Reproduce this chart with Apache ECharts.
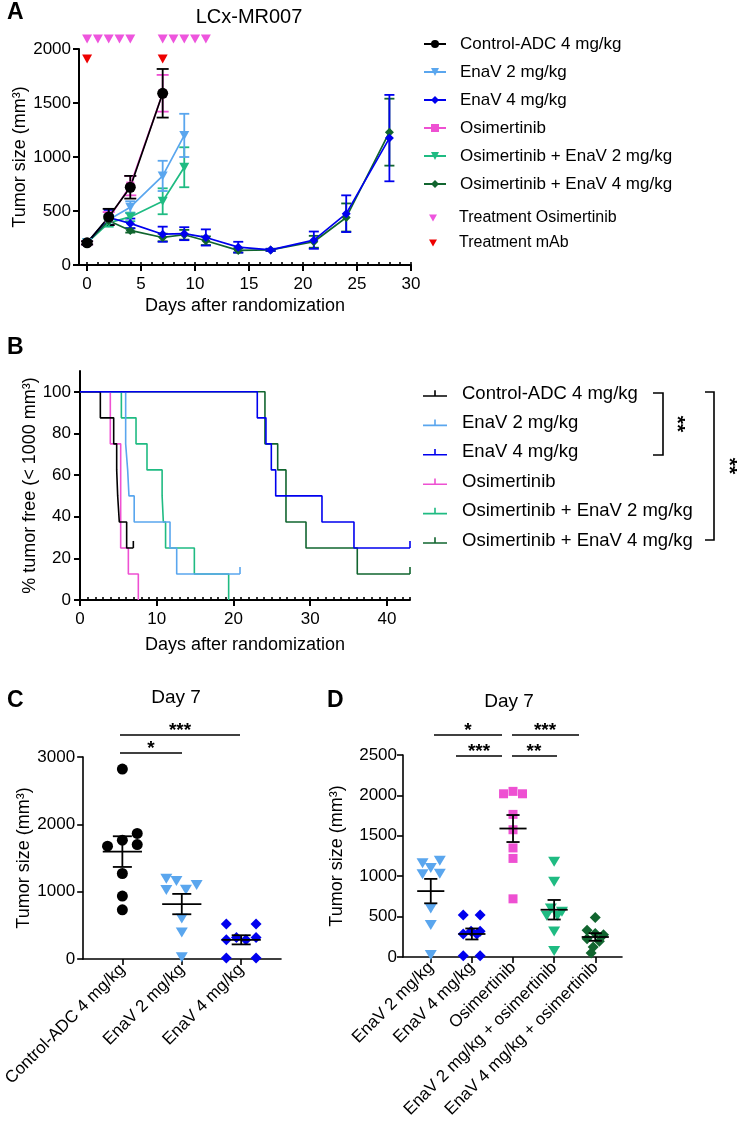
<!DOCTYPE html>
<html>
<head>
<meta charset="utf-8">
<title>LCx-MR007</title>
<script src="https://cdn.jsdelivr.net/npm/echarts@6.0.0/dist/echarts.min.js"></script>
<style>
html, body { margin: 0; padding: 0; background: #fff; }
#chart { width: 747px; height: 1124px; }
</style>
</head>
<body>
<div id="chart"></div>
<script>
// ---- panel A : tumour growth, mean and SEM ----
var daysShort = [0, 2, 4, 7];
var daysMid = [0, 2, 4, 7, 9];
var daysLong = [0, 2, 4, 7, 9, 11, 14, 17, 21, 24, 28];
var ctrlMeanA = [205, 445, 720, 1590];
var ctrlSemA = [15, 75, 105, 225];
var osiMeanA = [205, 430, 735, 1590];
var osiSemA = [15, 60, 90, 170];
var enav2MeanA = [205, 420, 535, 825, 1200];
var enav2SemA = [15, 45, 55, 140, 200];
var osiEnav2MeanA = [205, 390, 445, 590, 905];
var osiEnav2SemA = [15, 35, 40, 120, 185];
var enav4MeanA = [205, 440, 385, 285, 290, 255, 165, 140, 230, 475, 1175];
var enav4SemA = [15, 70, 45, 70, 60, 75, 50, 10, 80, 170, 400];
var osiEnav4MeanA = [205, 410, 320, 255, 280, 225, 135, 140, 215, 440, 1230];
var osiEnav4SemA = [15, 40, 20, 35, 45, 40, 20, 10, 55, 130, 310];
var osiDoseDays = [0, 1, 2, 3, 4, 7, 8, 9, 10, 11];
var mabDoseDays = [0, 7];

// ---- panel B : % tumor free (steps) ----
var kmCtrlT = [0, 2.65, 4.39, 4.78, 4.91, 5.12, 6.08, 6.95];
var kmCtrlP = [100, 87.5, 75, 62.5, 50, 37.5, 25, 25];
var kmEnav2T = [0, 5.95, 6.21, 6.38, 7.06, 11.73, 12.6, 20.85];
var kmEnav2P = [100, 75, 62.5, 50, 37.5, 25, 12.5, 12.5];
var kmEnav4T = [0, 23.1, 24.23, 24.93, 25.5, 31.53, 35.7, 43];
var kmEnav4P = [100, 87.5, 75, 62.5, 50, 37.5, 25, 25];
var kmOsiT = [0, 3.95, 5.3, 6.3, 7.6];
var kmOsiP = [100, 75, 25, 12.5, 0];
var kmOsiEnav2T = [0, 5.39, 7.3, 8.73, 10.7, 10.86, 11.15, 14.9, 19.37];
var kmOsiEnav2P = [100, 87.5, 75, 62.5, 50, 37.5, 25, 12.5, 0];
var kmOsiEnav4T = [0, 24.1, 25.76, 26.84, 29.45, 36.13, 43];
var kmOsiEnav4P = [100, 75, 62.5, 37.5, 25, 12.5, 12.5];

// ---- panels C and D : day 7 tumour size per mouse ----
var ctrlDay7 = [2820, 1865, 1765, 1675, 1700, 1270, 935, 730];
var enav2Day7 = [1190, 1160, 1100, 1025, 1030, 600, 395, 25];
var enav4Day7 = [520, 520, 285, 320, 285, 320, 15, 15];
var osiDay7 = [2020, 2050, 2020, 1765, 1575, 1350, 1220, 720];
var osiEnav2Day7 = [1180, 930, 600, 560, 510, 510, 315, 75];
var osiEnav4Day7 = [490, 330, 290, 275, 225, 195, 125, 50];
// horizontal spread of the dots (category units)
var ctrlJitC = [0, 0.25, 0, -0.25, 0.25, 0, 0, 0];
var enav2JitC = [-0.26, -0.09, 0.25, -0.26, 0.07, 0, 0, 0];
var enav4JitC = [-0.25, 0.25, -0.25, -0.08, 0.08, 0.25, -0.25, 0.25];
var enav2JitD = [0.22, -0.2, 0, -0.2, 0.22, 0, 0, 0];
var enav4JitD = [-0.21, 0.2, -0.21, -0.02, 0.12, 0.2, -0.21, 0.2];
var osiJitD = [-0.23, 0, 0.23, 0, 0, 0, 0, 0];
var osiEnav2JitD = [0, 0, -0.08, 0.19, -0.18, 0.08, 0, 0];
var osiEnav4JitD = [0, -0.2, 0, 0.2, -0.2, 0.1, -0.05, -0.1];

var catsC = ['Control-ADC 4 mg/kg', 'EnaV 2 mg/kg', 'EnaV 4 mg/kg'];
var catsD = ['EnaV 2 mg/kg', 'EnaV 4 mg/kg', 'Osimertinib', 'EnaV 2 mg/kg + osimertinib', 'EnaV 4 mg/kg + osimertinib'];
var groupNames = ['Control-ADC 4 mg/kg', 'EnaV 2 mg/kg', 'EnaV 4 mg/kg', 'Osimertinib', 'Osimertinib + EnaV 2 mg/kg', 'Osimertinib + EnaV 4 mg/kg'];

var fontFam = '"Liberation Sans", Arial, Helvetica, sans-serif';
var col = {
	ctrl: '#000000',
	enav2: '#5aa6ee',
	enav4: '#0000ee',
	osi: '#ee50d2',
	osiEnav2: '#1fbb82',
	osiEnav4: '#11652f'
};

function zip(xs, ys) {
	var out = [];
	for (var i = 0; i < xs.length; i++) out.push([xs[i], ys[i]]);
	return out;
}
function errData(xs, m, s) {
	var out = [];
	for (var i = 0; i < xs.length; i++) out.push([xs[i], m[i] - s[i], m[i] + s[i]]);
	return out;
}
function dots(idx, vals, jit) {
	var out = [];
	for (var i = 0; i < vals.length; i++) out.push([idx + jit[i], vals[i]]);
	return out;
}
function meanSem(idx, vals) {
	var n = vals.length, sum = 0, ss = 0;
	for (var i = 0; i < n; i++) sum += vals[i];
	var m = sum / n;
	for (var j = 0; j < n; j++) ss += (vals[j] - m) * (vals[j] - m);
	return [idx, m, Math.sqrt(ss / (n - 1)) / Math.sqrt(n)];
}
function range(a, b, step) {
	var out = [];
	for (var v = a; v <= b + 1e-9; v += step) out.push(v);
	return out;
}
function plain(v) { return String(v); }

// error bar with caps, cap half width in px
function errRender(cap) {
	return function (params, api) {
		var x = api.value(0);
		var lo = api.coord([x, api.value(1)]);
		var hi = api.coord([x, api.value(2)]);
		var st = { stroke: api.visual('color'), lineWidth: 1.8 };
		return {
			type: 'group',
			children: [
				{ type: 'line', shape: { x1: lo[0], y1: lo[1], x2: hi[0], y2: hi[1] }, style: st },
				{ type: 'line', shape: { x1: hi[0] - cap, y1: hi[1], x2: hi[0] + cap, y2: hi[1] }, style: st },
				{ type: 'line', shape: { x1: lo[0] - cap, y1: lo[1], x2: lo[0] + cap, y2: lo[1] }, style: st }
			]
		};
	};
}
// mean line with SEM whiskers for the dot plots
function meanRender(params, api) {
	var x = api.value(0), m = api.value(1), s = api.value(2);
	var a = api.coord([x - 0.33, m]), b = api.coord([x + 0.33, m]);
	var top = api.coord([x, m + s]), bot = api.coord([x, m - s]);
	var c1 = api.coord([x - 0.16, m]), c2 = api.coord([x + 0.16, m]);
	var st = { stroke: '#000', lineWidth: 1.8 };
	return {
		type: 'group',
		children: [
			{ type: 'line', shape: { x1: a[0], y1: a[1], x2: b[0], y2: b[1] }, style: st },
			{ type: 'line', shape: { x1: top[0], y1: top[1], x2: bot[0], y2: bot[1] }, style: st },
			{ type: 'line', shape: { x1: c1[0], y1: top[1], x2: c2[0], y2: top[1] }, style: st },
			{ type: 'line', shape: { x1: c1[0], y1: bot[1], x2: c2[0], y2: bot[1] }, style: st }
		]
	};
}

function axis(extra, lw) {
	var base = {
		splitLine: { show: false },
		axisLine: { show: true, onZero: false, lineStyle: { color: '#000', width: lw } },
		axisTick: { show: true, length: 6, lineStyle: { color: '#000', width: lw } },
		axisLabel: { color: '#000', fontSize: 17, fontFamily: fontFam, formatter: plain },
		nameTextStyle: { color: '#000', fontSize: 18, fontFamily: fontFam }
	};
	for (var k in extra) {
		if (typeof extra[k] === 'object' && !Array.isArray(extra[k]) && base[k]) {
			for (var j in extra[k]) base[k][j] = extra[k][j];
		} else {
			base[k] = extra[k];
		}
	}
	return base;
}
function hiddenAxis(extra) {
	var a = { show: false };
	for (var k in extra) a[k] = extra[k];
	return a;
}

var myChart = echarts.init(document.getElementById('chart'));

var series = [];

// panel A groups: drawn back to front
var groupsA = [
	{ name: groupNames[3], c: col.osi, x: daysShort, m: osiMeanA, s: osiSemA, sym: 'rect', size: 8, rot: 0, cap: 6 },
	{ name: groupNames[4], c: col.osiEnav2, x: daysMid, m: osiEnav2MeanA, s: osiEnav2SemA, sym: 'triangle', size: [10, 9], rot: 180, cap: 5 },
	{ name: groupNames[1], c: col.enav2, x: daysMid, m: enav2MeanA, s: enav2SemA, sym: 'triangle', size: [10, 9], rot: 180, cap: 5 },
	{ name: groupNames[5], c: col.osiEnav4, x: daysLong, m: osiEnav4MeanA, s: osiEnav4SemA, sym: 'diamond', size: 9, rot: 0, cap: 5 },
	{ name: groupNames[2], c: col.enav4, x: daysLong, m: enav4MeanA, s: enav4SemA, sym: 'diamond', size: 9, rot: 0, cap: 5 },
	{ name: groupNames[0], c: col.ctrl, x: daysShort, m: ctrlMeanA, s: ctrlSemA, sym: 'circle', size: 11, rot: 0, cap: 6 }
];
// legend looks up the first series with a name, so panel A lines go in first
groupsA.forEach(function (g) {
	series.push({
		name: g.name,
		type: 'line',
		xAxisIndex: 0, yAxisIndex: 0,
		data: zip(g.x, g.m),
		symbol: g.sym, symbolSize: g.size, symbolRotate: g.rot,
		showAllSymbol: true,
		lineStyle: { color: g.c, width: 1.7 },
		itemStyle: { color: g.c, opacity: 1 },
		z: 3
	});
	series.push({
		name: g.name + ' SEM',
		type: 'custom',
		xAxisIndex: 0, yAxisIndex: 0,
		data: errData(g.x, g.m, g.s),
		renderItem: errRender(g.cap),
		itemStyle: { color: g.c },
		z: 3
	});
});

// treatment schedule markers
series.push({
	name: 'Treatment Osimertinib',
	type: 'scatter',
	xAxisIndex: 2, yAxisIndex: 1,
	data: osiDoseDays.map(function (d) { return [d, 'Treatment Osimertinib']; }),
	symbol: 'triangle', symbolRotate: 180, symbolSize: [10, 9],
	itemStyle: { color: '#ee55dd', opacity: 1 }
});
series.push({
	name: 'Treatment mAb',
	type: 'scatter',
	xAxisIndex: 2, yAxisIndex: 1,
	data: mabDoseDays.map(function (d) { return [d, 'Treatment mAb']; }),
	symbol: 'triangle', symbolRotate: 180, symbolSize: [10, 9],
	itemStyle: { color: '#ee0000', opacity: 1 }
});

// panel B step curves
var groupsB = [
	{ name: groupNames[5], c: col.osiEnav4, t: kmOsiEnav4T, p: kmOsiEnav4P, cens: true },
	{ name: groupNames[4], c: col.osiEnav2, t: kmOsiEnav2T, p: kmOsiEnav2P, cens: false },
	{ name: groupNames[3], c: col.osi, t: kmOsiT, p: kmOsiP, cens: false },
	{ name: groupNames[1], c: col.enav2, t: kmEnav2T, p: kmEnav2P, cens: true },
	{ name: groupNames[0], c: col.ctrl, t: kmCtrlT, p: kmCtrlP, cens: true },
	{ name: groupNames[2], c: col.enav4, t: kmEnav4T, p: kmEnav4P, cens: true }
];
groupsB.forEach(function (g) {
	series.push({
		name: g.name,
		type: 'line',
		step: 'end',
		xAxisIndex: 3, yAxisIndex: 2,
		data: zip(g.t, g.p),
		symbol: 'none',
		lineStyle: { color: g.c, width: 1.6 },
		itemStyle: { color: g.c }
	});
	if (g.cens) {
		var last = g.t.length - 1;
		series.push({
			name: g.name + ' censored',
			type: 'scatter',
			xAxisIndex: 3, yAxisIndex: 2,
			data: [[g.t[last], g.p[last]]],
			symbol: 'rect', symbolSize: [1.6, 7], symbolOffset: [0, -3.5],
			itemStyle: { color: g.c, opacity: 1 }
		});
	}
});

// panel C dot plot
function dotSeries(name, xi, yi, data, sym, size, rot, c) {
	return {
		name: name, type: 'scatter', xAxisIndex: xi, yAxisIndex: yi, data: data,
		symbol: sym, symbolSize: size, symbolRotate: rot,
		itemStyle: { color: c, opacity: 1 }
	};
}
series.push(dotSeries('C ctrl', 5, 3, dots(0, ctrlDay7, ctrlJitC), 'circle', 11, 0, col.ctrl));
series.push(dotSeries('C enav2', 5, 3, dots(1, enav2Day7, enav2JitC), 'triangle', [12, 10], 180, col.enav2));
series.push(dotSeries('C enav4', 5, 3, dots(2, enav4Day7, enav4JitC), 'diamond', 11, 0, col.enav4));
series.push({
	name: 'C mean', type: 'custom', xAxisIndex: 5, yAxisIndex: 3,
	data: [meanSem(0, ctrlDay7), meanSem(1, enav2Day7), meanSem(2, enav4Day7)],
	renderItem: meanRender, z: 5
});

// panel D dot plot
series.push(dotSeries('D enav2', 6, 4, dots(0, enav2Day7, enav2JitD), 'triangle', [12, 10], 180, col.enav2));
series.push(dotSeries('D enav4', 6, 4, dots(1, enav4Day7, enav4JitD), 'diamond', 11, 0, col.enav4));
series.push(dotSeries('D osi', 6, 4, dots(2, osiDay7, osiJitD), 'rect', 9, 0, col.osi));
series.push(dotSeries('D osienav2', 6, 4, dots(3, osiEnav2Day7, osiEnav2JitD), 'triangle', [12, 10], 180, col.osiEnav2));
series.push(dotSeries('D osienav4', 6, 4, dots(4, osiEnav4Day7, osiEnav4JitD), 'diamond', 11, 0, col.osiEnav4));
series.push({
	name: 'D mean', type: 'custom', xAxisIndex: 6, yAxisIndex: 4,
	data: [meanSem(0, enav2Day7), meanSem(1, enav4Day7), meanSem(2, osiDay7), meanSem(3, osiEnav2Day7), meanSem(4, osiEnav4Day7)],
	renderItem: meanRender, z: 5
});

// annotations: panel letters, titles, brackets, stars
function txt(x, y, s, size, opt) {
	opt = opt || {};
	return {
		type: 'text', x: x, y: y, rotation: opt.rot || 0,
		style: {
			text: s,
			font: (opt.bold ? 'bold ' : '') + size + 'px ' + fontFam,
			fill: '#000',
			align: opt.align || 'center', textAlign: opt.align || 'center',
			verticalAlign: 'middle', textVerticalAlign: 'middle'
		}
	};
}
function seg(pts) {
	return { type: 'polyline', shape: { points: pts }, style: { stroke: '#000', lineWidth: 1.6, fill: null } };
}
var graphics = [
	txt(7, 13, 'A', 23, { bold: true, align: 'left' }),
	txt(7, 348, 'B', 23, { bold: true, align: 'left' }),
	txt(7, 701, 'C', 23, { bold: true, align: 'left' }),
	txt(327, 701, 'D', 23, { bold: true, align: 'left' }),
	txt(249, 17, 'LCx-MR007', 20),
	txt(176, 698, 'Day 7', 19),
	txt(509, 702, 'Day 7', 19),
	seg([[653, 393], [663, 393], [663, 455], [653, 455]]),
	txt(677, 424, '**', 21, { bold: true, rot: -Math.PI / 2 }),
	seg([[705, 392], [714, 392], [714, 540], [705, 540]]),
	txt(729, 466, '**', 21, { bold: true, rot: -Math.PI / 2 }),
	seg([[120, 735], [240, 735]]),
	txt(180, 731, '***', 19, { bold: true }),
	seg([[120, 753], [182, 753]]),
	txt(151, 749, '*', 19, { bold: true }),
	seg([[434, 735], [502, 735]]),
	txt(468, 731, '*', 19, { bold: true }),
	seg([[512, 735], [579, 735]]),
	txt(545, 731, '***', 19, { bold: true }),
	seg([[456, 756], [502, 756]]),
	txt(479, 752, '***', 19, { bold: true }),
	seg([[512, 756], [557, 756]]),
	txt(534, 752, '**', 19, { bold: true })
];

var censorIcon = 'path://M0,9L24,9L24,10.6L0,10.6Z M11.2,4L12.8,4L12.8,10.6L11.2,10.6Z';
var triIcon = 'path://M0,0L10,0L5,9Z';

var option = {
	animation: false,
	backgroundColor: '#fff',
	textStyle: { fontFamily: fontFam },
	grid: [
		{ left: 79, top: 49, width: 332, height: 216 },
		{ left: 79, top: 29, width: 332, height: 40 },
		{ left: 80, top: 371, width: 330, height: 229 },
		{ left: 79, top: 757, width: 202, height: 202 },
		{ left: 403, top: 755, width: 219, height: 202 }
	],
	xAxis: [
		axis({
			gridIndex: 0, type: 'value', min: -0.75, max: 30,
			name: 'Days after randomization', nameLocation: 'middle', nameGap: 32,
			axisTick: { customValues: range(0, 30, 5) },
			axisLabel: { customValues: range(0, 30, 5), margin: 11 }
		}, 2),
		hiddenAxis({ gridIndex: 0, type: 'value', min: -0.75, max: 30, show: true,
			axisLine: { show: false }, axisLabel: { show: false }, splitLine: { show: false },
			axisTick: { show: true, length: 3, customValues: range(0, 30, 1), lineStyle: { color: '#000', width: 1.6 } } }),
		hiddenAxis({ gridIndex: 1, type: 'value', min: -0.75, max: 30 }),
		axis({
			gridIndex: 2, type: 'value', min: 0, max: 43,
			name: 'Days after randomization', nameLocation: 'middle', nameGap: 36,
			axisTick: { customValues: range(0, 40, 10) },
			axisLabel: { customValues: range(0, 40, 10), margin: 11 }
		}, 2),
		hiddenAxis({ gridIndex: 2, type: 'value', min: 0, max: 43, show: true,
			axisLine: { show: false }, axisLabel: { show: false }, splitLine: { show: false },
			axisTick: { show: true, length: 3, customValues: range(0, 43, 1), lineStyle: { color: '#000', width: 1.6 } } }),
		axis({
			gridIndex: 3, type: 'value', min: -0.66, max: 2.67,
			axisTick: { customValues: [0, 1, 2] },
			axisLabel: { customValues: [0, 1, 2], rotate: 45, margin: 8, formatter: function (v) { return catsC[Math.round(v)]; } }
		}, 1.6),
		axis({
			gridIndex: 4, type: 'value', min: -0.675, max: 4.65,
			axisTick: { customValues: [0, 1, 2, 3, 4] },
			axisLabel: { customValues: [0, 1, 2, 3, 4], rotate: 45, margin: 8, formatter: function (v) { return catsD[Math.round(v)]; } }
		}, 1.6)
	],
	yAxis: [
		axis({
			gridIndex: 0, type: 'value', min: 0, max: 2000, interval: 500,
			name: 'Tumor size (mm³)', nameLocation: 'middle', nameGap: 48,
			axisLabel: { margin: 8 }
		}, 2),
		hiddenAxis({ gridIndex: 1, type: 'category', data: ['Treatment mAb', 'Treatment Osimertinib'] }),
		axis({
			gridIndex: 2, type: 'value', min: 0, max: 110,
			name: '% tumor free (< 1000 mm³)', nameLocation: 'middle', nameGap: 38,
			axisTick: { customValues: range(0, 100, 20) },
			axisLabel: { customValues: range(0, 100, 20), margin: 9 }
		}, 2),
		axis({
			gridIndex: 3, type: 'value', min: 0, max: 3000, interval: 1000,
			name: 'Tumor size (mm³)', nameLocation: 'middle', nameGap: 48,
			axisLabel: { margin: 8 }
		}, 1.6),
		axis({
			gridIndex: 4, type: 'value', min: 0, max: 2500, interval: 500,
			name: 'Tumor size (mm³)', nameLocation: 'middle', nameGap: 57,
			axisLabel: { margin: 6 }
		}, 1.6)
	],
	legend: [
		{
			data: groupNames, orient: 'vertical', left: 423, top: 35, padding: 0,
			itemWidth: 22, itemHeight: 10, itemGap: 10, selectedMode: false,
			textStyle: { color: '#000', fontSize: 17, lineHeight: 18, fontFamily: fontFam, padding: [0, 0, 0, 9] }
		},
		{
			data: [{ name: 'Treatment Osimertinib', icon: triIcon }, { name: 'Treatment mAb', icon: triIcon }],
			orient: 'vertical', left: 429, top: 210, padding: 0,
			itemWidth: 8, itemHeight: 8, itemGap: 9, selectedMode: false,
			textStyle: { color: '#000', fontSize: 16, lineHeight: 16, fontFamily: fontFam, padding: [0, 0, 0, 17] }
		},
		{
			data: groupNames.map(function (n) { return { name: n, icon: censorIcon }; }),
			orient: 'vertical', left: 423, top: 384, padding: 0,
			itemWidth: 24, itemHeight: 7, itemGap: 10.4, selectedMode: false,
			textStyle: { color: '#000', fontSize: 18.5, lineHeight: 19, fontFamily: fontFam, padding: [0, 0, 0, 10] }
		}
	],
	graphic: graphics,
	series: series
};
myChart.setOption(option);
</script>
</body>
</html>
